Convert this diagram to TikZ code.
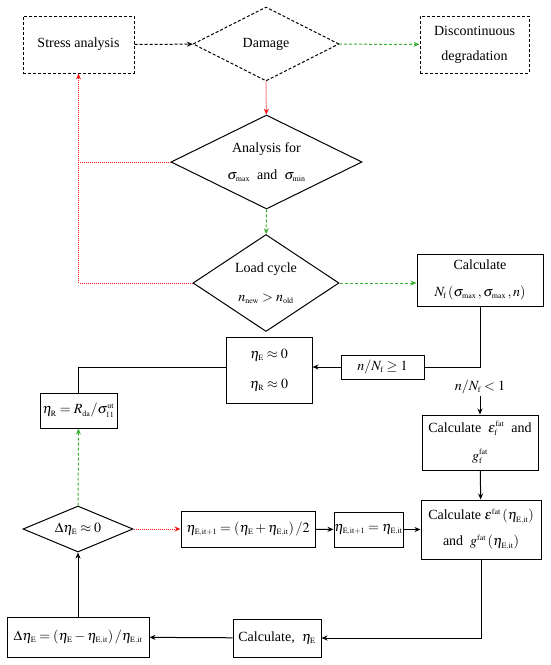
\documentclass[tikz,border=0pt]{standalone}
\usepackage{mathptmx}
\usepackage{fontspec}
\setmainfont{Liberation Serif}
\newfontfamily\chartfont{Liberation Serif}
\DeclareMathSizes{14}{14}{8}{6}
\usetikzlibrary{shapes.geometric,arrows.meta}
\definecolor{fgreen}{RGB}{60,175,50}
\definecolor{fred}{RGB}{250,20,20}
\tikzset{
	blk/.style={draw, line width=1pt, inner sep=0pt, align=center, font=\chartfont\fontsize{14}{16}\selectfont},
	solidbox/.style={blk, rectangle},
	dashbox/.style={blk, rectangle, dash pattern=on 3pt off 2pt},
	decision/.style={blk, diamond, aspect=2},
	sline/.style={line width=1pt},
	sarr/.style={line width=1pt, -{Stealth[length=6pt,width=5pt]}},
	darr/.style={line width=1pt, dash pattern=on 3pt off 2pt, -{Stealth[length=6pt,width=5pt]}},
	garr/.style={line width=1pt, fgreen, dash pattern=on 3pt off 2pt, -{Stealth[length=6pt,width=5pt]}},
	rline/.style={line width=1pt, fred, dash pattern=on 1pt off 1pt},
	rarr/.style={rline, -{Stealth[length=6pt,width=5pt]}}
}
\begin{document}
\begin{tikzpicture}[x=1pt,y=-1pt]
	%%%%% START %%%%%
	\useasboundingbox (0,0) rectangle (550,665);
	
	% top row
	\node[dashbox, minimum width=111pt, minimum height=57pt] (stress) at (78.5,44.5) {Stress analysis};
	\node[decision, dash pattern=on 3pt off 2pt, minimum width=146pt, minimum height=74pt] (damage) at (266,44) {Damage};
	\node[dashbox, minimum width=109pt, minimum height=57pt] (disc) at (474.5,44.5) {Discontinuous\\[9pt]degradation};
	
	% decisions
	\node[decision, minimum width=191pt, minimum height=94pt] (analysis) at (266.5,162) {Analysis for\\[11pt]$\sigma_{\mathrm{max}}$\ \ and\ \ $\sigma_{\mathrm{min}}$};
	\node[decision, minimum width=146pt, minimum height=97pt] (load) at (266,283) {Load cycle\\[13pt]$n_{\mathrm{new}} > n_{\mathrm{old}}$};
	
	\node[solidbox, minimum width=126pt, minimum height=52pt] (calcNf) at (480,280) {Calculate\\[11pt]$N_{\mathrm{f}}\,(\sigma_{\mathrm{max}}\,,\sigma_{\mathrm{max}}\,,n)$};
	\node[solidbox, minimum width=83pt, minimum height=24pt] (ge) at (382.5,367) {$n/N_{\mathrm{f}}\geq 1$};
	\node[solidbox, minimum width=86pt, minimum height=66pt] (eta) at (269,370) {$\eta_{\mathrm{E}}\approx 0$\\[14pt]$\eta_{\mathrm{R}}\approx 0$};
	\node[solidbox, minimum width=77pt, minimum height=35pt] (etaR) at (78.5,410.5) {$\eta_{\mathrm{R}}=R_{\mathrm{da}}/\sigma_{11}^{\mathrm{ut}}$};
	\node[inner sep=2pt, font=\chartfont\fontsize{14}{16}\selectfont] (lt) at (480,387) {$n/N_{\mathrm{f}}<1$};
	\node[solidbox, minimum width=116pt, minimum height=55pt] (calcEpsF) at (480,442.5) {Calculate\ \ $\varepsilon_{\mathrm{f}}^{\mathrm{fat}}$\ \ and\\[12pt]$g_{\mathrm{f}}^{\mathrm{fat}}$};
	
	% iteration loop
	\node[decision, minimum width=110pt, minimum height=46pt] (dDiam) at (78,529) {$\Delta\eta_{\mathrm{E}}\approx 0$};
	\node[solidbox, minimum width=134pt, minimum height=36pt] (half) at (248,529) {$\eta_{\mathrm{E,it+1}}=\left(\eta_{\mathrm{E}}+\eta_{\mathrm{E,it}}\right)/2$};
	\node[solidbox, minimum width=69pt, minimum height=35pt] (upd) at (368.5,529.5) {$\eta_{\mathrm{E,it+1}}=\eta_{\mathrm{E,it}}$};
	\node[solidbox, minimum width=120pt, minimum height=59pt] (calcEps) at (481,529.5) {Calculate\ $\varepsilon^{\mathrm{fat}}\left(\eta_{\mathrm{E,it}}\right)$\\[10pt]and\ \ $g^{\mathrm{fat}}\left(\eta_{\mathrm{E,it}}\right)$};
	\node[solidbox, minimum width=88pt, minimum height=38pt] (calcEta) at (277,638) {Calculate,\ \ $\eta_{\mathrm{E}}$};
	\node[solidbox, minimum width=142pt, minimum height=40pt] (dBox) at (78,637) {$\Delta\eta_{\mathrm{E}}=\left(\eta_{\mathrm{E}}-\eta_{\mathrm{E,it}}\right)/\eta_{\mathrm{E,it}}$};
	
	\coordinate (split) at (480,367);
	
	% connectors
	\draw[darr] (stress) -- (damage);
	\draw[garr] (damage) -- (disc);
	\draw[rarr] (damage) -- (analysis);
	\draw[rline] (analysis.west) -- (analysis.west -| stress.south);
	\draw[rarr] (load.west) -| (stress.south);
	\draw[garr] (analysis) -- (load);
	\draw[garr] (load.east) -- (load.east -| calcNf.west);
	\draw[sline] (calcNf.south) -- (split) -- (ge.east);
	\draw[sarr] (ge.west) -- (ge.west -| eta.east);
	\draw[sline] (eta.west |- split) -| (etaR.north);
	\draw[sarr] (lt.south) -- (calcEpsF.north);
	\draw[sarr] (calcEpsF) -- (calcEps);
	\draw[garr] (dDiam) -- (etaR);
	\draw[rarr] (dDiam) -- (half);
	\draw[sarr] (half) -- (upd);
	\draw[sarr] (upd) -- (calcEps);
	\draw[sarr] (calcEps.south) |- (calcEta.east);
	\draw[sarr] (calcEta) -- (dBox);
	\draw[sarr] (dBox) -- (dDiam);
	
	%%%%% END %%%%%
\end{tikzpicture}
\end{document}
